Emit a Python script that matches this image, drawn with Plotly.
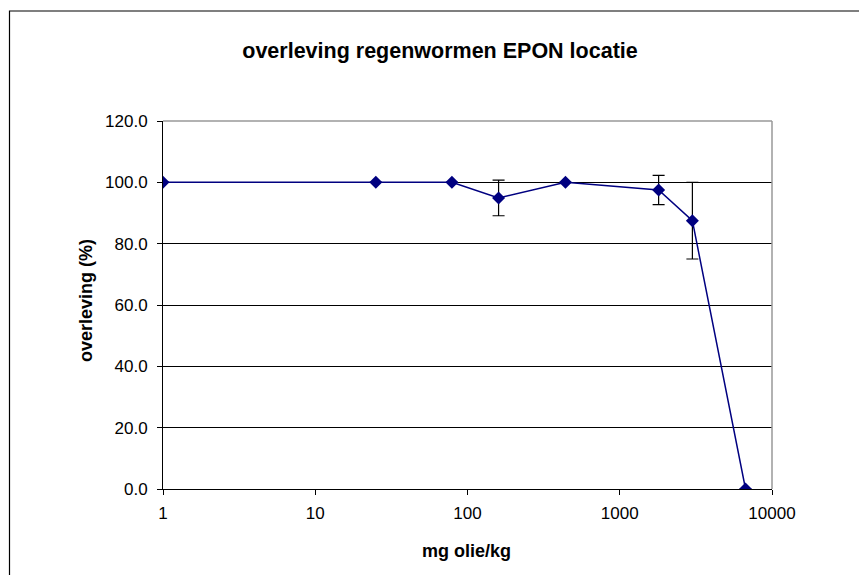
import plotly.graph_objects as go

# Earthworm survival versus oil concentration (EPON site)
concentration = [1, 25, 79, 160, 440, 1800, 3000, 6700]   # mg olie/kg
survival = [100.0, 100.0, 100.0, 94.9, 100.0, 97.5, 87.5, 0.0]  # %
survival_err = [0, 0, 0, 5.8, 0, 4.8, 12.5, 0]
y_ticks = [0, 20, 40, 60, 80, 100, 120]
x_ticks = [1, 10, 100, 1000, 10000]

navy = "#000080"
font_family = "Arial, Liberation Sans, sans-serif"

# plot-area geometry in pixels
W, H = 859, 575
L, R, T, B = 163, 87, 121, 86
PW, PH = W - L - R, H - T - B


def px_x(x):
    return (x - L) / PW


def px_y(y):
    return (H - B - y) / PH


fig = go.Figure()
fig.add_trace(go.Scatter(
    x=concentration,
    y=survival,
    mode="lines+markers",
    line=dict(color=navy, width=1.5),
    marker=dict(symbol="diamond", size=10, color=navy),
    error_y=dict(type="data", array=survival_err, visible=True,
                 color="black", thickness=1.2, width=6),
    showlegend=False,
))

fig.update_layout(
    width=W,
    height=H,
    margin=dict(l=L, r=R, t=T, b=B),
    paper_bgcolor="white",
    plot_bgcolor="white",
    font=dict(family=font_family, size=17, color="black"),
    title=dict(
        text="<b>overleving regenwormen EPON locatie</b>",
        x=440 / W, xanchor="center",
        y=1 - 50 / H, yanchor="middle",
        font=dict(size=21.5, color="black"),
    ),
    xaxis=dict(
        type="log",
        range=[0, 4],
        tickvals=x_ticks,
        ticktext=[str(v) for v in x_ticks],
        ticks="outside", ticklen=5, tickcolor="black",
        ticklabelstandoff=4,
        showline=True, linecolor="black", linewidth=1,
        showgrid=False, zeroline=False,
        tickfont=dict(size=17),
    ),
    # inner half of the crossing x ticks
    xaxis2=dict(
        type="log",
        range=[0, 4],
        tickvals=x_ticks,
        overlaying="x", anchor="y", side="bottom",
        ticks="inside", ticklen=4, tickcolor="black",
        showticklabels=False, showline=False,
        showgrid=False, zeroline=False,
    ),
    yaxis=dict(
        range=[0, 120],
        tickvals=y_ticks,
        tickformat=".1f",
        ticks="outside", ticklen=5, tickcolor="black",
        ticklabelstandoff=6,
        showline=True, linecolor="black", linewidth=1,
        showgrid=True, gridcolor="black", gridwidth=1,
        zeroline=False,
        tickfont=dict(size=17),
    ),
    annotations=[
        dict(text="<b>mg olie/kg</b>", xref="paper", yref="paper",
             x=px_x(466), y=px_y(551), xanchor="center", yanchor="middle",
             showarrow=False, font=dict(size=18)),
        dict(text="<b>overleving (%)</b>", xref="paper", yref="paper",
             x=px_x(86), y=px_y(300), xanchor="center", yanchor="middle",
             textangle=-90, showarrow=False, font=dict(size=18)),
    ],
    shapes=[
        # grey frame on the top and right of the plot area
        dict(type="line", xref="paper", yref="paper", x0=0, x1=1, y0=1, y1=1,
             line=dict(color="#999999", width=1.5)),
        dict(type="line", xref="paper", yref="paper", x0=1, x1=1, y0=0, y1=1,
             line=dict(color="#999999", width=1.5)),
        # outer chart border
        dict(type="rect", xref="paper", yref="paper",
             x0=px_x(9.5), x1=1.3,
             y0=-0.4, y1=px_y(11),
             line=dict(color="black", width=1.2), layer="below"),
    ],
)

fig.write_html("out.html")
